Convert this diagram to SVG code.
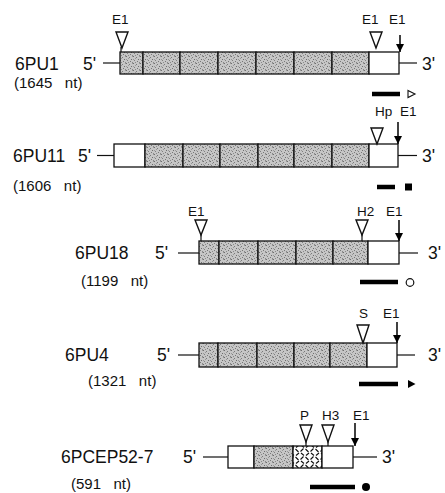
<svg xmlns="http://www.w3.org/2000/svg" width="445" height="493" viewBox="0 0 445 493">
<defs>
<pattern id="stip" width="7" height="7" patternUnits="userSpaceOnUse">
<rect width="7" height="7" fill="#c6c6c6"/>
<rect x="0" y="0" width="1" height="1" fill="#6e6e6e"/>
<rect x="3" y="1" width="1" height="1" fill="#7a7a7a"/>
<rect x="5" y="3" width="1" height="1" fill="#6e6e6e"/>
<rect x="1" y="4" width="1" height="1" fill="#808080"/>
<rect x="4" y="5" width="1" height="1" fill="#777"/>
<rect x="6" y="6" width="1" height="1" fill="#888"/>
<rect x="2" y="2" width="1" height="1" fill="#999"/>
<rect x="6" y="0" width="1" height="1" fill="#999"/>
<rect x="2" y="6" width="1" height="1" fill="#8a8a8a"/>
<rect x="0" y="3" width="1" height="1" fill="#9a9a9a"/>
</pattern>
<pattern id="hatch" width="10" height="8" patternUnits="userSpaceOnUse">
<rect width="10" height="8" fill="#fff"/>
<path d="M0.5 3.5 L3.5 0.5 M5.5 1 L8.5 4 M1 5 L4 7.5 M6 7.5 L9 5" stroke="#111" stroke-width="1.1" fill="none"/>
</pattern>
<marker id="ah" viewBox="0 0 10 10" refX="10" refY="5" markerWidth="8" markerHeight="8" markerUnits="userSpaceOnUse" orient="auto">
<path d="M0 0 L10 5 L0 10 Z" fill="#000"/>
</marker>
</defs>
<style>
text{font-family:"Liberation Sans",Arial,sans-serif;fill:#111;white-space:pre}
.nm{font-size:17.5px}
.sz{font-size:15px}
.lb{font-size:13.5px}
.box{stroke:#111;stroke-width:1.3}
.g{fill:url(#stip)}
.w{fill:#fff}
.ln{stroke:#111;stroke-width:1.2;fill:none}
.tri{fill:#fff;stroke:#111;stroke-width:1.4}
.arr{stroke:#111;stroke-width:1.6;fill:none}
.bar{stroke:#000;stroke-width:4.5}
</style>

<g id="connectors">
<line class="ln" x1="103" y1="63" x2="120" y2="63"/>
<line class="ln" x1="399" y1="63" x2="417" y2="63"/>
<line class="ln" x1="97" y1="155.5" x2="114" y2="155.5"/>
<line class="ln" x1="398" y1="155.5" x2="417" y2="155.5"/>
<line class="ln" x1="178" y1="253" x2="199" y2="253"/>
<line class="ln" x1="399" y1="253" x2="418" y2="253"/>
<line class="ln" x1="178" y1="355" x2="199" y2="355"/>
<line class="ln" x1="397" y1="355" x2="415" y2="355"/>
<line class="ln" x1="203" y1="457" x2="228" y2="457"/>
<line class="ln" x1="353" y1="457" x2="377" y2="457"/>
</g>

<g id="n6PU1">
<text class="nm" x="15" y="70">6PU1</text>
<text class="nm" x="83" y="70">5'</text>
<text class="sz" x="14" y="88">(1645   nt)</text>
<text class="nm" x="422" y="70">3'</text>
<rect class="box g" x="120" y="52" width="23" height="22"/>
<rect class="box g" x="143" y="52" width="37" height="22"/>
<rect class="box g" x="180" y="52" width="38" height="22"/>
<rect class="box g" x="218" y="52" width="38" height="22"/>
<rect class="box g" x="256" y="52" width="38" height="22"/>
<rect class="box g" x="294" y="52" width="38" height="22"/>
<rect class="box g" x="332" y="52" width="37" height="22"/>
<rect class="box w" x="369" y="52" width="30" height="22"/>
<text class="lb" x="112" y="24">E1</text>
<path class="tri" d="M116 32 L128 32 L122 48 Z"/>
<line class="ln" x1="121" y1="47" x2="121" y2="52"/>
<text class="lb" x="362" y="24">E1</text>
<path class="tri" d="M370 32 L382 32 L376 48 Z"/>
<text class="lb" x="389" y="24">E1</text>
<line class="arr" x1="400" y1="35" x2="400" y2="52" marker-end="url(#ah)"/>
<line class="bar" x1="372" y1="94" x2="400" y2="94"/>
<path d="M408 90.5 L415 94 L408 97.5 Z" fill="#fff" stroke="#111" stroke-width="1.1"/>
</g>

<g id="n6PU11">
<text class="nm" x="13" y="162">6PU11</text>
<text class="nm" x="78" y="162">5'</text>
<text class="sz" x="13" y="191">(1606   nt)</text>
<text class="nm" x="422" y="162">3'</text>
<rect class="box w" x="114" y="144" width="31" height="23"/>
<rect class="box g" x="145" y="144" width="38" height="23"/>
<rect class="box g" x="183" y="144" width="37" height="23"/>
<rect class="box g" x="220" y="144" width="38" height="23"/>
<rect class="box g" x="258" y="144" width="36" height="23"/>
<rect class="box g" x="294" y="144" width="38" height="23"/>
<rect class="box g" x="332" y="144" width="37" height="23"/>
<rect class="box w" x="369" y="144" width="29" height="23"/>
<text class="lb" x="375" y="116">Hp</text>
<text class="lb" x="400" y="116">E1</text>
<path class="tri" d="M371 128 L383 128 L377 144 Z"/>
<line class="arr" x1="398" y1="122" x2="398" y2="144" marker-end="url(#ah)"/>
<line class="bar" x1="377" y1="187" x2="395" y2="187"/>
<rect x="405" y="183.5" width="7" height="7" fill="#000"/>
</g>

<g id="n6PU18">
<text class="nm" x="75" y="259">6PU18</text>
<text class="nm" x="155" y="259">5'</text>
<text class="sz" x="81" y="286">(1199   nt)</text>
<text class="nm" x="428" y="259">3'</text>
<rect class="box g" x="199" y="241" width="20" height="23"/>
<rect class="box g" x="219" y="241" width="39" height="23"/>
<rect class="box g" x="258" y="241" width="38" height="23"/>
<rect class="box g" x="296" y="241" width="37" height="23"/>
<rect class="box g" x="333" y="241" width="35" height="23"/>
<rect class="box w" x="368" y="241" width="31" height="23"/>
<text class="lb" x="188" y="216">E1</text>
<path class="tri" d="M195 220 L207 220 L201 235 Z"/>
<line class="ln" x1="201" y1="234" x2="201" y2="241"/>
<text class="lb" x="357" y="216">H2</text>
<path class="tri" d="M356 220 L368 220 L362 235 Z"/>
<line class="ln" x1="362" y1="234" x2="362" y2="241"/>
<text class="lb" x="386" y="216">E1</text>
<line class="arr" x1="399" y1="220" x2="399" y2="241" marker-end="url(#ah)"/>
<line class="bar" x1="360" y1="282" x2="398" y2="282"/>
<circle cx="410" cy="282.5" r="3.8" fill="#fff" stroke="#111" stroke-width="1.2"/>
</g>

<g id="n6PU4">
<text class="nm" x="65" y="361">6PU4</text>
<text class="nm" x="157" y="361">5'</text>
<text class="sz" x="88" y="386">(1321   nt)</text>
<text class="nm" x="428" y="361">3'</text>
<rect class="box g" x="199" y="343" width="19" height="24"/>
<rect class="box g" x="218" y="343" width="39" height="24"/>
<rect class="box g" x="257" y="343" width="37" height="24"/>
<rect class="box g" x="294" y="343" width="36" height="24"/>
<rect class="box g" x="330" y="343" width="37" height="24"/>
<rect class="box w" x="367" y="343" width="30" height="24"/>
<text class="lb" x="359" y="318">S</text>
<path class="tri" d="M357 325 L369 325 L363 343 Z"/>
<text class="lb" x="383" y="318">E1</text>
<line class="arr" x1="397" y1="322" x2="397" y2="343" marker-end="url(#ah)"/>
<line class="bar" x1="359" y1="384" x2="398" y2="384"/>
<path d="M408 380 L415.5 384 L408 388 Z" fill="#000"/>
</g>

<g id="n6PCEP52-7">
<text class="nm" x="61" y="463">6PCEP52-7</text>
<text class="nm" x="183" y="463">5'</text>
<text class="sz" x="71" y="489">(591   nt)</text>
<text class="nm" x="382" y="463">3'</text>
<rect class="box w" x="228" y="446" width="26" height="22"/>
<rect class="box g" x="254" y="446" width="39" height="22"/>
<rect class="box" fill="url(#hatch)" x="293" y="446" width="29" height="22"/>
<rect class="box w" x="322" y="446" width="31" height="22"/>
<text class="lb" x="300" y="420">P</text>
<text class="lb" x="322" y="420">H3</text>
<text class="lb" x="353" y="420">E1</text>
<path class="tri" d="M300 425 L312 425 L306 442 Z"/>
<line class="ln" x1="306" y1="441" x2="306" y2="446"/>
<path class="tri" d="M322 425 L334 425 L328 442 Z"/>
<line class="ln" x1="328" y1="441" x2="328" y2="446"/>
<line class="arr" x1="355" y1="423" x2="355" y2="446" marker-end="url(#ah)"/>
<line class="bar" x1="310" y1="487" x2="355" y2="487"/>
<circle cx="366" cy="487" r="4" fill="#000"/>
</g>
</svg>
